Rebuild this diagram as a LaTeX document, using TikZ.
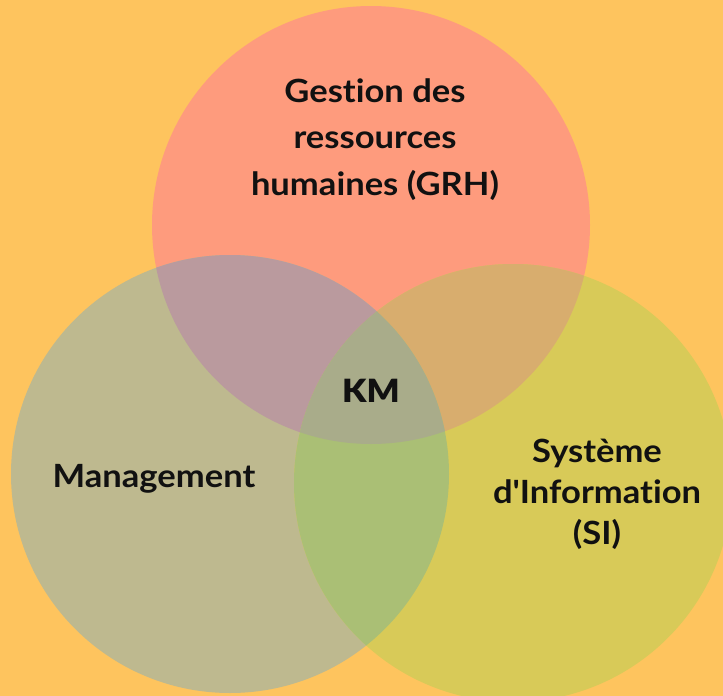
\documentclass[tikz,border=0pt]{standalone}
\usepackage{fontspec}
\setmainfont{Lato}[FakeStretch=1.08, Ligatures={TeXOff,NoCommon}]
\newfontfamily\kmfont{Lato Black}[FakeStretch=1.08, Ligatures={TeXOff,NoCommon}]
\definecolor{bgc}{HTML}{FEC45E}
\definecolor{topc}{HTML}{FE9B7D}
\definecolor{leftc}{HTML}{BEB98F}
\definecolor{rightc}{HTML}{D8CA58}
\definecolor{tlc}{HTML}{BA9A9E}
\definecolor{trc}{HTML}{D8AD6E}
\definecolor{lrc}{HTML}{AABF75}
\definecolor{allc}{HTML}{A9AC8A}
\definecolor{txt}{HTML}{111111}
\tikzset{
  lbl/.style={text=txt, align=center, inner sep=0pt, anchor=base, font=\bfseries\fontsize{32}{46.5}\selectfont},
  lblsi/.style={lbl, font=\bfseries\fontsize{32}{41}\selectfont},
  lblkm/.style={text=txt, inner sep=0pt, anchor=base, font=\kmfont\fontsize{32}{38}\selectfont}
}
\begin{document}
\begin{tikzpicture}[x=1pt,y=-1pt]
\fill[bgc] (0,0) rectangle (723,696);
\useasboundingbox (0,0) rectangle (723,696);
\coordinate (cT) at (371,225);
\coordinate (cL) at (230,474);
\coordinate (cR) at (513,483);
\fill[topc] (cT) circle (219pt);
\fill[leftc] (cL) circle (219pt);
\fill[rightc] (cR) circle (219pt);
\begin{scope}
  \clip (cT) circle (219pt);
  \fill[tlc] (cL) circle (219pt);
  \fill[trc] (cR) circle (219pt);
\end{scope}
\begin{scope}
  \clip (cL) circle (219pt);
  \fill[lrc] (cR) circle (219pt);
\end{scope}
\begin{scope}
  \clip (cT) circle (219pt);
  \clip (cL) circle (219pt);
  \fill[allc] (cR) circle (219pt);
\end{scope}
\node[lbl] (grh) at (375,195) {Gestion des\\ressources\\humaines (GRH)};
\node[lblkm] (km) at (371,402) {KM};
\node[lbl] (mgmt) at (154,487) {Management};
\node[lblsi] (si) at (597,544) {Système\\d'Information\\(SI)};
\end{tikzpicture}
\end{document}
